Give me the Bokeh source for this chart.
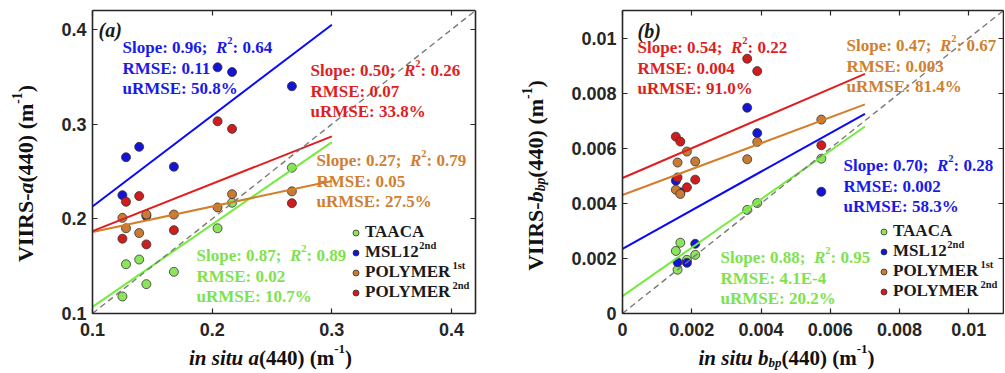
import math
from bokeh.plotting import figure
from bokeh.models import (Range1d, Label, Legend, LegendItem, LinearAxis, FixedTicker,
                          NumeralTickFormatter, CustomJSTickFormatter)
from bokeh.layouts import row
from bokeh.embed import file_html
from bokeh.resources import INLINE

# ---------------------------------------------------------------- data
series_names = ["TAACA", "MSL12", "POLYMER", "POLYMER"]
series_sup = ["", "2nd", "1st", "2nd"]

# panel (a): absorption a(440)
a_insitu = [0.125, 0.128, 0.139, 0.145, 0.168, 0.2045, 0.2166, 0.2666]
a_taaca = [0.118, 0.152, 0.157, 0.131, 0.144, 0.190, 0.217, 0.254]
a_msl12 = [0.225, 0.265, 0.276, 0.203, 0.255, 0.360, 0.355, 0.340]
a_poly1 = [0.201, 0.190, 0.185, 0.2045, 0.2045, 0.212, 0.226, 0.229]
a_poly2 = [0.179, 0.218, 0.224, 0.173, 0.188, 0.303, 0.295, 0.2165]
a_slope = [0.87, 0.96, 0.27, 0.50]
a_intercept = [0.020, 0.117, 0.159, 0.137]
a_fit_x = [0.1, 0.3]
a_slope_txt = ["0.87", "0.96", "0.27", "0.50"]
a_r2_txt = ["0.89", "0.64", "0.79", "0.26"]
a_rmse_txt = ["0.02", "0.11", "0.05", "0.07"]
a_urmse_txt = ["10.7%", "50.8%", "27.5%", "33.8%"]
a_ticks = [0.1, 0.2, 0.3, 0.4]
a_tick_labels = ["0.1", "0.2", "0.3", "0.4"]
a_box = (0.1, 0.42)

# panel (b): backscattering b_bp(440)
b_insitu = [0.00154, 0.00159, 0.00167, 0.00186, 0.0021, 0.0036, 0.00389, 0.00574]
b_taaca = [0.00227, 0.00159, 0.00257, 0.00195, 0.00213, 0.00376, 0.00401, 0.00562]
b_msl12 = [0.00482, 0.00186, 0.00440, 0.00184, 0.00253, 0.00747, 0.00655, 0.00442]
b_poly1 = [0.00449, 0.00548, 0.00434, 0.00588, 0.00552, 0.00560, 0.00623, 0.00704]
b_poly2 = [0.00642, 0.00494, 0.00624, 0.00458, 0.00486, 0.00925, 0.00880, 0.00611]
b_slope = [0.88, 0.70, 0.47, 0.54]
b_intercept = [0.00063, 0.00235, 0.0043, 0.00492]
b_fit_x = [0.0, 0.007]
b_slope_txt = ["0.88", "0.70", "0.47", "0.54"]
b_r2_txt = ["0.95", "0.28", "0.67", "0.22"]
b_rmse_txt = ["4.1E-4", "0.002", "0.003", "0.004"]
b_urmse_txt = ["20.2%", "58.3%", "81.4%", "91.0%"]
b_ticks = [0, 0.002, 0.004, 0.006, 0.008, 0.01]
b_tick_labels = ["0", "0.002", "0.004", "0.006", "0.008", "0.01"]
b_box = (0.0, 0.011)

# ---------------------------------------------------------------- styles
SERIF = "Liberation Serif"
SANS = "Liberation Sans"
AX = "#262626"
fill_colors = ["#8DE45C", "#1414D4", "#C97A33", "#D01C1C"]
line_colors = ["#74EC3E", "#0A0AF5", "#D27E2A", "#E01E1E"]
text_colors = ["#7EE24E", "#1A1AE8", "#D08030", "#DD1F1F"]

W_B = {' ': 250, '!': 333, '%': 1000, '(': 333, ')': 333, '-': 333, '.': 250, ':': 333, ';': 333,
       'A': 722, 'B': 667, 'C': 722, 'D': 722, 'E': 667, 'I': 389, 'L': 667, 'M': 944, 'O': 778,
       'P': 611, 'R': 722, 'S': 556, 'T': 667, 'V': 722, 'Y': 722, 'a': 500, 'b': 556, 'd': 556,
       'e': 444, 'i': 278, 'l': 278, 'm': 833, 'n': 556, 'o': 500, 'p': 556, 's': 389, 't': 333,
       'u': 556}
W_BI = {' ': 250, '(': 333, ')': 333, 'R': 667, 'a': 500, 'b': 500, 'i': 278, 'n': 556,
        'p': 500, 's': 389, 't': 278, 'u': 556}

PAGE_H = 373
BOX_TOP, BOX_BOTTOM = 10, 313          # page px of the axes box (both panels)


def text_w(t, style):
    tab = W_BI if "italic" in style else W_B
    return sum(tab.get(c, 500) for c in t) / 1000.0


class Pan:
    """Maps page pixels to the data space of a figure whose frame sits at (fl, ft)."""
    def __init__(self, fl, ft, fw, fh, xr, yr):
        self.fl, self.ft, self.fw, self.fh = fl, ft, fw, fh
        self.xr, self.yr = xr, yr

    def to_data(self, px, py):
        x = self.xr[0] + (px - self.fl) / self.fw * (self.xr[1] - self.xr[0])
        y = self.yr[1] - (py - self.ft) / self.fh * (self.yr[1] - self.yr[0])
        return x, y


def box_pan(fig_left, fig_w, box_left, box_right, box):
    """Frame covers the whole figure; the data box sits at the given page pixels."""
    lo, hi = box
    px_x = (hi - lo) / (box_right - box_left)
    px_y = (hi - lo) / (BOX_BOTTOM - BOX_TOP)
    xr = (lo - (box_left - fig_left) * px_x, hi + (fig_left + fig_w - box_right) * px_x)
    yr = (lo - (PAGE_H - BOX_BOTTOM) * px_y, hi + BOX_TOP * px_y)
    return Pan(fig_left, 0, fig_w, PAGE_H, xr, yr)


def rich(p, pan, px, py, pieces, size, color, angle=0.0, center=False, sup_rise=0.40,
         sub_drop=0.22):
    """(px, py) = page position of the text's centre line start (or centre if center)."""
    def fsz(k):
        return size * 0.62 if k in ("sup", "sub") else size
    total = sum(text_w(t, st) * fsz(k) for t, st, k in pieces)
    if angle == 0:
        ax = px - total / 2 if center else px
        ay = py
    else:
        ax = px
        ay = py + total / 2 if center else py
    x, y = pan.to_data(ax, ay)
    off = 0.0
    for t, st, k in pieces:
        fs = fsz(k)
        w = text_w(t, st) * fs
        if k != "gap":
            rise = {"n": 0.0, "sup": sup_rise * size, "sub": -sub_drop * size}[k]
            if angle == 0:
                xo, yo = off, rise
            else:
                xo, yo = -rise, off
            p.add_layout(Label(x=x, y=y, x_offset=xo, y_offset=yo, text=t, angle=angle,
                               text_font=SERIF, text_font_style=st,
                               text_font_size=f"{fs:.1f}px", text_color=color,
                               text_align="left", text_baseline="alphabetic"))
        off += w


def make_panel(pan, box, ticks, tick_labels):
    p = figure(frame_width=pan.fw, frame_height=pan.fh,
               x_range=Range1d(*pan.xr), y_range=Range1d(*pan.yr),
               min_border=0, output_backend="svg", toolbar_location=None,
               background_fill_color="white", border_fill_color="white")
    p.title.visible = False
    p.xgrid.visible = False
    p.ygrid.visible = False
    p.outline_line_color = None
    xa = p.below[0]
    ya = p.left[0]
    over = dict(zip(ticks, tick_labels))
    for ax in (xa, ya):
        ax.ticker = FixedTicker(ticks=ticks)
        ax.formatter = NumeralTickFormatter(format="0.[000]")
        ax.major_label_overrides = over
    extra_top = LinearAxis(ticker=FixedTicker(ticks=ticks),
                           formatter=CustomJSTickFormatter(code="return '';"))
    extra_right = LinearAxis(ticker=FixedTicker(ticks=ticks),
                             formatter=CustomJSTickFormatter(code="return '';"))
    p.add_layout(extra_top, "above")
    p.add_layout(extra_right, "right")
    # all four axes are drawn on the edges of the data box, inside the frame
    xa.fixed_location = box[0]
    ya.fixed_location = box[0]
    extra_top.fixed_location = box[1]
    extra_right.fixed_location = box[1]
    for ax in (xa, ya, extra_top, extra_right):
        ax.bounds = box
        ax.major_tick_in = 5
        ax.major_tick_out = 0
        ax.minor_tick_in = 0
        ax.minor_tick_out = 0
        ax.major_tick_line_color = AX
        ax.major_tick_line_width = 1.2
        ax.axis_line_color = AX
        ax.axis_line_width = 1.6
        ax.major_label_text_font = SANS
        ax.major_label_text_font_style = "bold"
        ax.major_label_text_font_size = "18px"
        ax.major_label_text_color = AX
    xa.major_label_standoff = 9
    ya.major_label_standoff = 6
    for ax in (extra_top, extra_right):
        ax.major_label_standoff = 0
        ax.major_label_text_font_size = "1px"
    return p


def fill_panel(p, pan, box, xs, ys_list, slopes, intercepts, fit_x, slope_txt, r2_txt,
               rmse_txt, urmse_txt, text_pos, legend_pos, legend_text_x, legend_rows, tag,
               tag_pos):
    rends = []
    for i, ys in enumerate(ys_list):
        r = p.scatter(xs, ys, size=9, fill_color=fill_colors[i], line_color="#333333",
                      line_width=0.8)
        rends.append(r)
    for i in range(len(ys_list)):
        fy = [slopes[i] * x + intercepts[i] for x in fit_x]
        p.line(fit_x, fy, line_color=line_colors[i], line_width=2)
    p.line([box[0], box[1]], [box[0], box[1]], line_color="#7a7a7a",
           line_width=1.4, line_dash="6 4")
    # statistics text
    for i in range(len(ys_list)):
        tx, ty = text_pos[i]
        c = text_colors[i]
        rich(p, pan, tx, ty, [("Slope: " + slope_txt[i] + ";", "bold", "n"),
                              ("  ", "bold", "gap"),
                              ("R", "bold italic", "n"), ("2", "bold", "sup"),
                              (": " + r2_txt[i], "bold", "n")], 17, c)
        rich(p, pan, tx, ty + 20.5, [("RMSE: " + rmse_txt[i], "bold", "n")], 17, c)
        rich(p, pan, tx, ty + 41, [("uRMSE: " + urmse_txt[i], "bold", "n")], 17, c)
    # legend (location = px from the frame's bottom-left corner)
    items = [LegendItem(label=series_names[i], renderers=[rends[i]]) for i in range(len(rends))]
    leg = Legend(items=items, location=legend_pos, orientation="vertical",
                 border_line_alpha=0, background_fill_alpha=0, padding=0, margin=0,
                 spacing=-1, glyph_width=15, glyph_height=15, label_standoff=2,
                 label_height=15, label_text_font=SERIF, label_text_font_style="bold",
                 label_text_font_size="17px", label_text_color="#1a1a1a")
    p.add_layout(leg)
    for i in range(len(rends)):
        if series_sup[i]:
            rich(p, pan, legend_text_x, legend_rows[i],
                 [(series_names[i], "bold", "gap"), (series_sup[i], "bold", "sup")],
                 17, "#1a1a1a", sup_rise=0.31)
    rich(p, pan, tag_pos[0], tag_pos[1], [("(" + tag + ")", "bold italic", "n")], 20, "#1a1a1a")


# ---------------------------------------------------------------- layout (page px)
LEFT = box_pan(0, 500, 92, 475, a_box)
RIGHT = box_pan(500, 504, 622, 1003, b_box)

# panel (a)
p1 = make_panel(LEFT, a_box, a_ticks, a_tick_labels)
fill_panel(p1, LEFT, a_box, a_insitu, [a_taaca, a_msl12, a_poly1, a_poly2], a_slope,
           a_intercept, a_fit_x, a_slope_txt, a_r2_txt, a_rmse_txt, a_urmse_txt,
           text_pos=[(196, 255), (122, 47), (316, 160), (310, 70)],
           legend_pos=(348, 71), legend_text_x=365,
           legend_rows=[230.5, 250.5, 270.5, 290.5], tag="a", tag_pos=(98, 29))
rich(p1, LEFT, 270, 357, [("in situ a", "bold italic", "n"), ("(440) (m", "bold", "n"),
                          ("-1", "bold", "sup"), (")", "bold", "n")],
     21, "#111111", center=True)
rich(p1, LEFT, 25, 173, [("VIIRS-", "bold", "n"), ("a", "bold italic", "n"),
                         ("(440) (m", "bold", "n"), ("-1", "bold", "sup"), (")", "bold", "n")],
     22, "#111111", angle=math.pi / 2, center=True)

# panel (b)
p2 = make_panel(RIGHT, b_box, b_ticks, b_tick_labels)
fill_panel(p2, RIGHT, b_box, b_insitu, [b_taaca, b_msl12, b_poly1, b_poly2], b_slope,
           b_intercept, b_fit_x, b_slope_txt, b_r2_txt, b_rmse_txt, b_urmse_txt,
           text_pos=[(720, 257), (843, 165), (846, 45), (637, 47)],
           legend_pos=(376, 72), legend_text_x=893,
           legend_rows=[229.5, 249.5, 269.5, 289.5], tag="b", tag_pos=(637, 30))
rich(p2, RIGHT, 786, 357, [("in situ b", "bold italic", "n"), ("bp", "bold italic", "sub"),
                           ("(440) (m", "bold", "n"), ("-1", "bold", "sup"),
                           (")", "bold", "n")],
     21, "#111111", center=True)
rich(p2, RIGHT, 535, 175, [("VIIRS-", "bold", "n"), ("b", "bold italic", "n"),
                           ("bp", "bold italic", "sub"), ("(440) (m", "bold", "n"),
                           ("-1", "bold", "sup"), (")", "bold", "n")],
     22, "#111111", angle=math.pi / 2, center=True)

layout = row(p1, p2)
open("out.html", "w").write(file_html(layout, INLINE))
